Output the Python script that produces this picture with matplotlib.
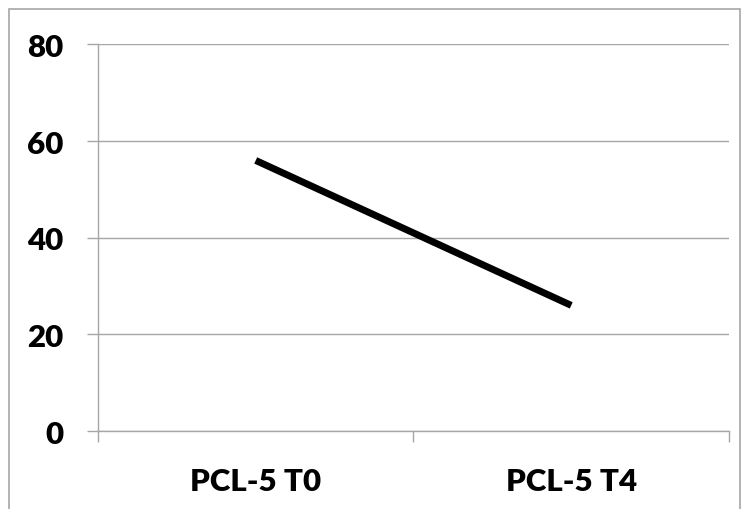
import numpy as np
import matplotlib.pyplot as plt
from matplotlib.patches import Rectangle

categories = ['PCL-5 T0', 'PCL-5 T4']
scores = [56, 26]
y_ticks = [0, 20, 40, 60, 80]

grey = '#a6a6a6'
plt.rcParams['font.family'] = ['Lato', 'DejaVu Sans']

fig = plt.figure(figsize=(7.49, 5.10), dpi=100)
ax = fig.add_axes([0.1308, 0.1529, 0.8425, 0.7579])

x = np.arange(len(categories))
ax.plot(x, scores, color='black', linewidth=5, solid_capstyle='butt')

ax.set_xlim(-0.5, len(categories) - 0.5)
ax.set_ylim(0, 80)
ax.set_yticks(y_ticks)
ax.set_yticklabels([str(v) for v in y_ticks], fontsize=22.5, fontweight='heavy')
ax.set_xticks(x)
ax.set_xticklabels(categories, fontsize=22.5, fontweight='heavy')
ax.set_xticks(np.arange(len(categories) + 1) - 0.5, minor=True)

ax.grid(axis='y', color=grey, linewidth=1)
ax.set_axisbelow(True)
ax.tick_params(axis='y', which='major', length=8, width=1, color=grey, pad=17)
ax.tick_params(axis='x', which='major', length=0, pad=26)
ax.tick_params(axis='x', which='minor', length=8, width=1, color=grey)

for side in ['top', 'right']:
    ax.spines[side].set_visible(False)
for side in ['left', 'bottom']:
    ax.spines[side].set_color(grey)
    ax.spines[side].set_linewidth(1)

# chart border
fig.patches.append(Rectangle((9 / 749, -0.01), 731 / 749, 1 - 10 / 510 + 0.01,
                             transform=fig.transFigure, fill=False,
                             edgecolor=grey, linewidth=1.2))

fig.savefig('out.png', dpi=100)
